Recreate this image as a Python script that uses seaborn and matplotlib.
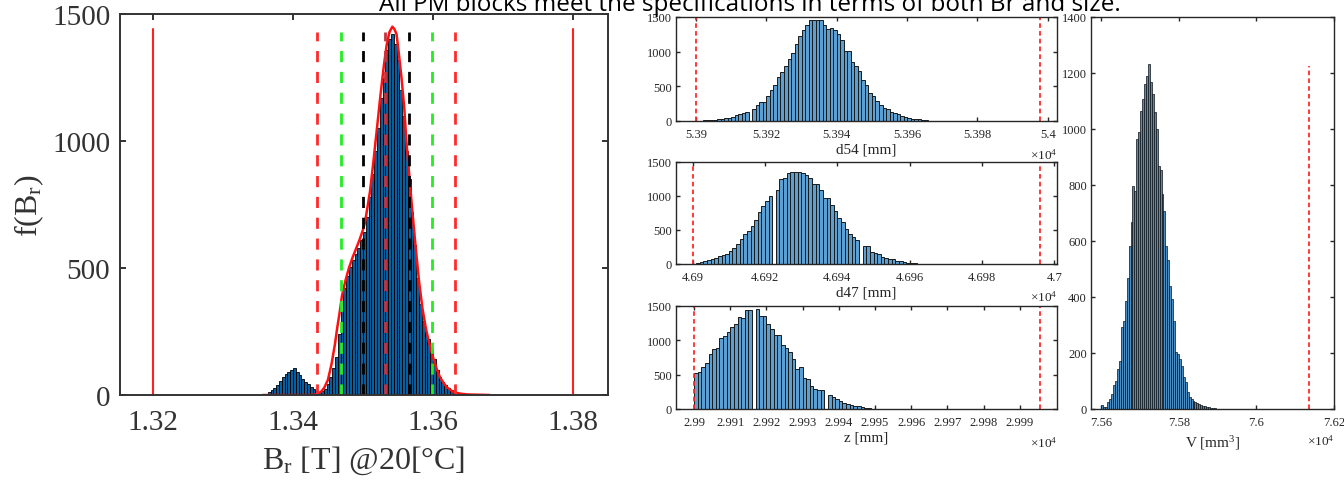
import numpy as np
import pandas as pd
import matplotlib
matplotlib.use('Agg')
import matplotlib.pyplot as plt
from matplotlib.ticker import FuncFormatter
import seaborn as sns

# ---- Br histogram (left) ----
br_start = 1.3356
br_width = 0.0004
br_counts = [2, 5, 10, 18, 28, 40, 55, 70, 82, 90, 98, 106, 92, 78, 64, 52, 42, 32, 22, 14,
             10, 14, 25, 45, 70, 105, 150, 240, 330, 420, 470, 505, 530, 555, 580, 610, 640,
             700, 780, 870, 960, 1050, 1170, 1250, 1360, 1400, 1420, 1380, 1320, 1200, 1100,
             960, 850, 720, 590, 460, 360, 290, 250, 220, 180, 140, 100, 70, 52, 38, 28, 18,
             12, 8, 5, 3, 2, 1, 1, 1]
fit_x = [1.3357, 1.3400, 1.3425, 1.3432, 1.3440, 1.3445, 1.3450, 1.3455, 1.3460, 1.3463,
         1.3467, 1.3470, 1.3475, 1.3480, 1.3485, 1.3490, 1.3495, 1.3500, 1.3503, 1.3510,
         1.3515, 1.3520, 1.3525, 1.3530, 1.3534, 1.3538, 1.3542, 1.3545, 1.3548, 1.3551,
         1.3555, 1.3559, 1.3562, 1.3566, 1.3570, 1.3575, 1.3580, 1.3585, 1.3590, 1.3595,
         1.3600, 1.3605, 1.3610, 1.3615, 1.3620, 1.3630, 1.3640, 1.3650, 1.3681]
fit_y = [0, 0, 0, 2, 12, 30, 60, 120, 200, 260, 330, 390, 450, 500, 540, 575, 610, 650,
         680, 800, 920, 1050, 1180, 1300, 1380, 1430, 1450, 1440, 1420, 1350, 1250, 1130,
         1000, 870, 740, 590, 450, 340, 260, 200, 150, 105, 70, 48, 30, 10, 5, 2, 0]
spec_solid = [1.32, 1.38]
lim_red = [1.3435, 1.3631]
lim_green = [1.3468, 1.3598]
lim_black = [1.3500, 1.3566]
br_mean = 1.3532

# ---- dimension histograms (mm, bin width 1 mm) ----
d54_start = 53902
d54_counts = [10, 10, 15, 15, 25, 25, 40, 45, 63, 80, 97, 116, 135, 0, 174, 232, 281, 276,
              358, 445, 523, 629, 702, 789, 895, 978, 1104, 1220, 1307, 1379, 1452, 1452,
              1462, 1462, 1389, 1331, 1341, 1307, 1249, 1162, 1016, 1007, 847, 789, 716, 590,
              523, 397, 358, 290, 232, 184, 169, 126, 121, 106, 73, 58, 39, 34, 34, 24, 19,
              10, 6, 4, 2]
d54_spec = [53900, 53997.7]

d47_start = 46901
d47_counts = [10, 29, 49, 54, 73, 93, 112, 136, 151, 190, 234, 297, 370, 448, 487, 565, 648,
              769, 857, 930, 993, 0, 1091, 1247, 1261, 1344, 1359, 1354, 1359, 1344, 1310,
              1271, 1174, 1174, 1091, 964, 964, 867, 784, 672, 614, 516, 443, 394, 360, 0,
              263, 263, 175, 166, 151, 97, 88, 73, 68, 49, 39, 29, 19, 19, 10, 5, 3, 2, 0, 2]
d47_spec = [46900, 46996]

z_start = 29900
z_counts = [529, 538, 611, 669, 805, 868, 888, 1033, 1057, 1120, 1193, 1232, 1339, 1329,
            1436, 1436, 0, 1450, 1353, 1353, 1242, 1169, 1072, 1072, 926, 892, 829, 732, 587,
            611, 456, 437, 335, 296, 281, 272, 0, 199, 175, 141, 116, 92, 78, 63, 49, 44, 29,
            19, 10, 5, 3, 1]
z_spec = [29900, 29995.5]

# ---- volume histogram (mm^3, bin width 5 mm^3) ----
v_start = 75600
v_width = 5
v_counts = [14, 8, 8, 26, 36, 54, 86, 101, 143, 173, 292, 315, 385, 468, 581, 667, 798, 780,
            964, 988, 1065, 1107, 1161, 1188, 1232, 1169, 1125, 1060, 1000, 869, 855, 768,
            708, 583, 533, 440, 393, 315, 202, 196, 179, 155, 113, 95, 62, 42, 36, 30, 24,
            21, 17, 14, 10, 10, 7, 6, 4, 3, 2, 1]
v_spec = 76136

title = 'All PM blocks meet the specifications in terms of both Br and size.'

sns.set_style('ticks')
plt.rcParams['font.family'] = ['Liberation Serif', 'DejaVu Serif']
plt.rcParams['mathtext.fontset'] = 'custom'
plt.rcParams['mathtext.rm'] = 'Liberation Serif'
plt.rcParams['mathtext.it'] = 'Liberation Serif:italic'
plt.rcParams['xtick.direction'] = 'in'
plt.rcParams['ytick.direction'] = 'in'

fig = plt.figure(figsize=(13.44, 4.85), dpi=100)
W, H = 1344.0, 485.0


def add_ax(x0, y0, x1, y1):
    return fig.add_axes([x0 / W, 1 - y1 / H, (x1 - x0) / W, (y1 - y0) / H])


def hist(ax, start, width, counts, face, edge, lw):
    n = len(counts)
    centers = start + width * (np.arange(n) + 0.5)
    df = pd.DataFrame({'x': centers, 'w': np.asarray(counts, dtype=float)})
    sns.histplot(data=df, x='x', weights='w', bins=n,
                 binrange=(start, start + width * n), ax=ax, color=face,
                 edgecolor=edge, linewidth=lw, alpha=1)
    ax.set_ylabel('')


def style(ax, size, lw, col='#262626'):
    ax.tick_params(which='both', top=True, right=True, labelsize=size, colors=col,
                   length=4, width=lw)
    for s in ax.spines.values():
        s.set_linewidth(lw)
        s.set_color(col)
        s.set_visible(True)


tick_fmt = FuncFormatter(lambda v, p: '%g' % round(v / 1e4, 6))

# left panel
ax = add_ax(120, 15, 608, 396)
hist(ax, br_start, br_width, br_counts, '#0a5e9e', 'black', 0.6)
sns.lineplot(x=fit_x, y=fit_y, ax=ax, color='#ff1010', linewidth=1.8)
for x in spec_solid:
    ax.plot([x, x], [0, 1440], color='#ff2020', linewidth=1.5)
dash = dict(linewidth=2, dashes=(4, 3.5))
for x in lim_red:
    ax.plot([x, x], [0, 1430], color='#ff2a2a', **dash)
for x in lim_green:
    ax.plot([x, x], [0, 1430], color='#22ee22', **dash)
for x in lim_black:
    ax.plot([x, x], [0, 1430], color='black', **dash)
ax.plot([br_mean, br_mean], [0, 1430], color='#c8323c', **dash)
ax.set_xlim(1.3153, 1.385)
ax.set_ylim(0, 1500)
ax.set_xticks([1.32, 1.34, 1.36, 1.38])
ax.set_yticks([0, 500, 1000, 1500])
ax.xaxis.set_major_formatter(FuncFormatter(lambda v, p: '%g' % round(v, 4)))
style(ax, 21, 1.4, '#333333')
ax.tick_params(axis='x', pad=10)
ax.tick_params(axis='y', pad=7)
ax.set_xlabel(r'$\mathrm{B_r}$ [T] @20[°C]', fontsize=23, color='#333333', labelpad=6)
ax.set_ylabel(r'$\mathrm{f(B_r)}$', fontsize=23, color='#333333', labelpad=4)

mid_face = '#5b9fd3'
panels = [
    ((676, 18, 1057, 122), d54_start, d54_counts, d54_spec, (53894.3, 54002.6),
     np.arange(53900, 54001, 20), 'd54 [mm]'),
    ((676, 163, 1057, 265), d47_start, d47_counts, d47_spec, (46895.4, 47000.7),
     np.arange(46900, 47001, 20), 'd47 [mm]'),
    ((676, 307, 1057, 410), z_start, z_counts, z_spec, (29895.0, 30000.3),
     np.arange(29900, 29991, 10), 'z [mm]'),
]
for box, start, counts, spec, xl, ticks, lab in panels:
    ax = add_ax(*box)
    hist(ax, start, 1, counts, mid_face, '#1a1a1a', 0.7)
    for x in spec:
        ax.plot([x, x], [0, 1500], color='#ff2a2a', linewidth=1.3, dashes=(2.5, 1.8))
    ax.set_xlim(*xl)
    ax.set_ylim(0, 1500)
    ax.set_xticks(ticks)
    ax.set_yticks([0, 500, 1000, 1500])
    ax.xaxis.set_major_formatter(tick_fmt)
    style(ax, 9, 1.0)
    ax.tick_params(axis='x', pad=5, length=3)
    ax.tick_params(axis='y', pad=3, length=3)
    ax.set_xlabel(lab, fontsize=11, color='#262626', labelpad=2)
    ax.text(1.0, -0.25, r'$\times10^{4}$', transform=ax.transAxes, ha='right', va='top',
            fontsize=9.5, color='#262626')

# right panel
ax = add_ax(1091, 18, 1334, 410)
hist(ax, v_start, v_width, v_counts, '#4a8ec4', '#111111', 0.5)
ax.plot([v_spec, v_spec], [0, 1225], color='#ff2a2a', linewidth=1.3, dashes=(2.5, 1.8))
ax.set_xlim(75573, 76200)
ax.set_ylim(0, 1400)
ax.set_xticks([75600, 75800, 76000, 76200])
ax.set_yticks(range(0, 1401, 200))
ax.xaxis.set_major_formatter(tick_fmt)
style(ax, 9, 1.0)
ax.tick_params(axis='x', pad=5, length=3)
ax.tick_params(axis='y', pad=3, length=3)
ax.set_xlabel(r'V [mm$^{3}$]', fontsize=11, color='#262626', labelpad=4)
ax.text(1.0, -0.06, r'$\times10^{4}$', transform=ax.transAxes, ha='right', va='top',
        fontsize=9.5, color='#262626')

fig.text(750 / W, 1 - 11 / H, title, ha='center', va='baseline', fontsize=17.5,
         family=['Open Sans', 'DejaVu Sans'], color='black')

fig.savefig('out.png', dpi=100)
